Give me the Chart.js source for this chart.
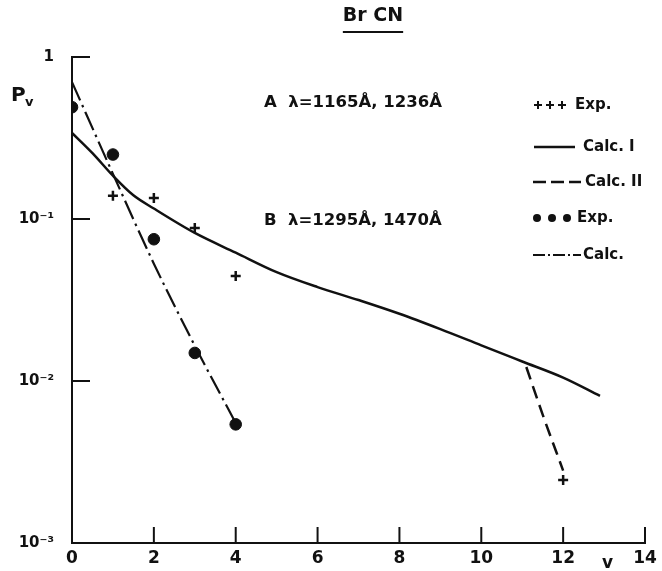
<!DOCTYPE html>
<html>
<head>
<meta charset="utf-8">
<title>BrCN</title>
<script src="https://cdn.jsdelivr.net/npm/chart.js@4.4.1/dist/chart.umd.min.js"></script>
<style>
    html, body { margin: 0; padding: 0; background: #fff; }
    #wrap { width: 662px; height: 571px; position: relative; }
</style>
</head>
<body>
<div id="wrap"><canvas id="chart" width="662" height="571"></canvas></div>
<script>
// 数据
const expAV = [1, 2, 3, 4, 12];                 // +++ Exp.
const expAP = [0.139, 0.135, 0.088, 0.0445, 0.00245];

const calcIV = [0, 0.5, 1, 1.5, 2, 3, 4, 5, 6, 7, 8, 9, 10, 11, 12, 12.9];
const calcIP = [0.34, 0.255, 0.185, 0.14, 0.116, 0.082, 0.062, 0.047, 0.038, 0.0316, 0.026, 0.0209, 0.0166, 0.0132, 0.0105, 0.0081];

const calcIIV = [11.1, 11.5, 12];
const calcIIP = [0.0122, 0.0062, 0.0028];

const expBV = [0, 1, 2, 3, 4];                  // ●●● Exp.
const expBP = [0.49, 0.25, 0.075, 0.0149, 0.0054];

const calcBV = [0, 1, 2, 3, 4];                 // -·-· Calc.
const calcBP = [0.70, 0.19, 0.053, 0.0165, 0.0055];

const xTickVals = [0, 2, 4, 6, 8, 10, 12, 14];
const yTickVals = [0.001, 0.01, 0.1, 1];
const yTickLabels = ['10⁻³', '10⁻²', '10⁻¹', '1'];

const legendLabels = ['Exp.', 'Calc. I', 'Calc. II', 'Exp.', 'Calc.'];
const noteA = 'A  λ=1165Å, 1236Å';
const noteB = 'B  λ=1295Å, 1470Å';

const INK = '#111';
const FONT = '"DejaVu Sans", "Liberation Sans", sans-serif';

function pts(xs, ys) {
    return xs.map((v, i) => ({ x: v, y: ys[i] }));
}

function line(ctx, x1, y1, x2, y2) {
    ctx.beginPath();
    ctx.moveTo(x1, y1);
    ctx.lineTo(x2, y2);
    ctx.stroke();
}

// 自定义绘制：内向刻度、标题、注释、图例
const decorPlugin = {
    id: 'decor',
    afterDraw(chart) {
        const ctx = chart.ctx;
        const xs = chart.scales.x;
        const ys = chart.scales.y;
        const left = chart.chartArea.left;
        const bottom = chart.chartArea.bottom;

        ctx.save();
        ctx.strokeStyle = INK;
        ctx.fillStyle = INK;
        ctx.lineWidth = 2;
        ctx.setLineDash([]);

        // y 轴内向刻度
        yTickVals.slice(1).forEach(v => {
            const py = ys.getPixelForValue(v);
            line(ctx, left, py, left + 18, py);
        });
        // x 轴向上刻度
        xTickVals.slice(1).forEach(v => {
            const px = xs.getPixelForValue(v);
            line(ctx, px, bottom, px, bottom - 16);
        });

        // 标题
        ctx.font = 'bold 19px ' + FONT;
        ctx.textAlign = 'center';
        ctx.textBaseline = 'middle';
        ctx.fillText('Br CN', 373, 16);
        const tw = ctx.measureText('Br CN').width;
        line(ctx, 373 - tw / 2, 32, 373 + tw / 2, 32);

        // 轴标签
        ctx.textAlign = 'left';
        ctx.font = 'bold 20px ' + FONT;
        ctx.fillText('P', 11, 96);
        ctx.font = 'bold 13px ' + FONT;
        ctx.fillText('v', 25, 103);
        ctx.font = 'bold 17px ' + FONT;
        ctx.fillText('v', 602, 564);

        // 注释
        ctx.font = 'bold 16.5px ' + FONT;
        ctx.fillText(noteA, 264, 103);
        ctx.fillText(noteB, 264, 221);

        // 图例
        const lx = 533;
        const rows = [105, 147, 182, 218, 255];
        ctx.font = 'bold 15px ' + FONT;

        // +++
        ctx.lineWidth = 2;
        [0, 1, 2].forEach(k => {
            const cx = lx + 5 + k * 12;
            line(ctx, cx - 4, rows[0], cx + 4, rows[0]);
            line(ctx, cx, rows[0] - 4, cx, rows[0] + 4);
        });
        ctx.fillText(legendLabels[0], 575, rows[0]);

        // ——
        ctx.lineWidth = 2.5;
        line(ctx, lx + 1, rows[1], lx + 42, rows[1]);
        ctx.fillText(legendLabels[1], 583, rows[1]);

        // ---
        ctx.setLineDash([13, 5]);
        line(ctx, lx, rows[2], lx + 48, rows[2]);
        ctx.setLineDash([]);
        ctx.fillText(legendLabels[2], 585, rows[2]);

        // ●●●
        [0, 1, 2].forEach(k => {
            ctx.beginPath();
            ctx.arc(lx + 4 + k * 15, rows[3], 4, 0, Math.PI * 2);
            ctx.fill();
        });
        ctx.fillText(legendLabels[3], 577, rows[3]);

        // -·-·
        ctx.lineWidth = 2;
        ctx.setLineDash([12, 3, 2, 3]);
        line(ctx, lx, rows[4], lx + 48, rows[4]);
        ctx.setLineDash([]);
        ctx.fillText(legendLabels[4], 583, rows[4]);

        ctx.restore();
    }
};

new Chart(document.getElementById('chart'), {
    type: 'scatter',
    data: {
        datasets: [
            {
                label: 'Calc. I',
                data: pts(calcIV, calcIP),
                showLine: true,
                borderColor: INK,
                borderWidth: 2.5,
                pointRadius: 0,
                cubicInterpolationMode: 'monotone'
            },
            {
                label: 'Calc. II',
                data: pts(calcIIV, calcIIP),
                showLine: true,
                borderColor: INK,
                borderWidth: 2.5,
                borderDash: [13, 7],
                pointRadius: 0,
                cubicInterpolationMode: 'monotone'
            },
            {
                label: 'Calc.',
                data: pts(calcBV, calcBP),
                showLine: true,
                borderColor: INK,
                borderWidth: 2.2,
                borderDash: [20, 5, 2.5, 5],
                pointRadius: 0,
                cubicInterpolationMode: 'monotone'
            },
            {
                label: 'Exp. A',
                data: pts(expAV, expAP),
                showLine: false,
                pointStyle: 'cross',
                pointRadius: 5,
                borderColor: INK,
                pointBorderWidth: 2.5
            },
            {
                label: 'Exp. B',
                data: pts(expBV, expBP),
                showLine: false,
                pointStyle: 'circle',
                pointRadius: 5.8,
                backgroundColor: INK,
                borderColor: INK,
                pointBorderWidth: 1
            }
        ]
    },
    options: {
        responsive: false,
        animation: false,
        layout: {
            padding: { top: 57, right: 17, left: 0, bottom: 0 }
        },
        plugins: {
            legend: { display: false },
            tooltip: { enabled: false },
            title: { display: false }
        },
        scales: {
            x: {
                type: 'linear',
                min: 0,
                max: 14,
                afterBuildTicks: s => { s.ticks = xTickVals.map(v => ({ value: v })); },
                afterFit: s => { s.height = 28; },
                grid: { display: false, drawTicks: false },
                border: { display: true, color: INK, width: 2 },
                ticks: {
                    color: INK,
                    padding: 5,
                    font: { family: FONT, size: 17, weight: 'bold' }
                }
            },
            y: {
                type: 'logarithmic',
                min: 0.001,
                max: 1,
                afterBuildTicks: s => { s.ticks = yTickVals.map(v => ({ value: v })); },
                afterFit: s => { s.width = 72; },
                grid: { display: false, drawTicks: false },
                border: { display: true, color: INK, width: 2 },
                ticks: {
                    color: INK,
                    padding: 18,
                    font: { family: FONT, size: 15, weight: 'bold' },
                    callback: v => {
                        const i = yTickVals.indexOf(v);
                        return i >= 0 ? yTickLabels[i] : '';
                    }
                }
            }
        }
    },
    plugins: [decorPlugin]
});
</script>
</body>
</html>
